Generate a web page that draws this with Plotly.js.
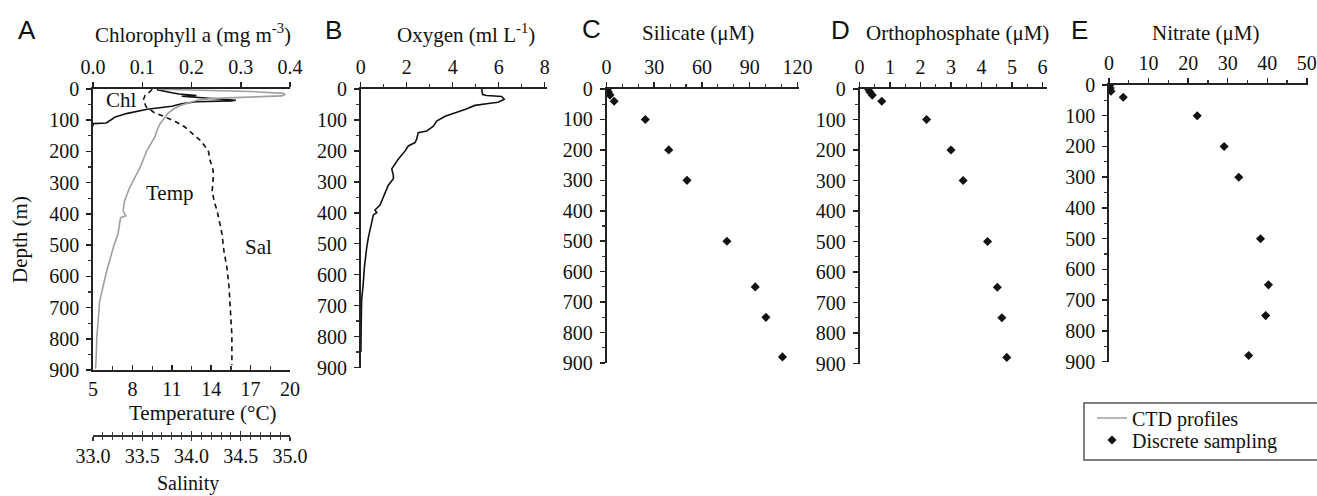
<!DOCTYPE html>
<html><head><meta charset="utf-8">
<script src="https://cdn.plot.ly/plotly-3.0.1.min.js"></script>
<style>body{margin:0;background:#fff}#plot{width:1317px;height:496px}</style>
</head><body><div id="plot"></div>
<script>
// ---- Data ----
const chlDepth = [2, 6, 12, 16, 19, 21, 23, 25, 28, 32, 36, 38, 41, 47, 55, 65, 78, 90, 98, 105, 109, 111, 120];
const chlVal   = [0.13, 0.14, 0.16, 0.175, 0.19, 0.21, 0.18, 0.2, 0.22, 0.25, 0.29, 0.28, 0.21, 0.18, 0.16, 0.11, 0.07, 0.045, 0.037, 0.03, 0.027, 0.0, 0.0];

const tempDepth = [1, 4, 8, 14, 18, 22, 25, 27, 30, 35, 43, 52, 65, 78, 95, 111, 130, 154, 197, 250, 315, 358, 390, 406, 412, 440, 465, 500, 541, 590, 626, 660, 681, 740, 788, 850, 896];
const tempVal   = [10.0, 13.5, 17.0, 19.5, 19.6, 19.4, 17.5, 15.5, 14.2, 13.0, 12.3, 11.7, 11.1, 10.7, 10.4, 10.1, 9.9, 9.7, 9.1, 8.6, 7.8, 7.4, 7.3, 7.5, 7.1, 7.0, 6.9, 6.6, 6.3, 6.0, 5.8, 5.6, 5.5, 5.4, 5.3, 5.25, 5.2];

const salDepth = [1, 8, 20, 35, 57, 75, 89, 105, 121, 140, 165, 197, 230, 261, 290, 326, 360, 390, 430, 465, 520, 573, 630, 681, 740, 788, 840, 885];
const salVal   = [33.6, 33.58, 33.53, 33.51, 33.54, 33.62, 33.73, 33.84, 33.93, 34.0, 34.09, 34.17, 34.19, 34.22, 34.22, 34.21, 34.23, 34.26, 34.29, 34.31, 34.33, 34.36, 34.38, 34.39, 34.405, 34.41, 34.41, 34.41];

const o2Depth = [0, 18, 21, 24, 33, 43, 47, 53, 66, 77, 88, 104, 120, 136, 141, 163, 173, 184, 200, 226, 245, 258, 279, 290, 311, 354, 375, 391, 400, 407, 428, 481, 513, 577, 630, 683, 768, 850];
const o2Val   = [5.26, 5.3, 5.48, 6.13, 6.24, 5.98, 5.55, 4.97, 4.53, 4.1, 3.67, 3.3, 3.16, 2.87, 2.5, 2.43, 2.36, 2.07, 1.93, 1.64, 1.46, 1.35, 1.42, 1.42, 1.2, 0.98, 0.84, 0.62, 0.7, 0.55, 0.48, 0.33, 0.26, 0.16, 0.11, 0.04, 0.02, 0.01];

const sampDepth = [0, 10, 20, 40, 100, 200, 300, 500, 650, 750, 880];
const silicate  = [0.6, 1.2, 2.2, 4.8, 24.4, 39.1, 50.6, 75.7, 93.5, 100.2, 110.6];
const phosphate = [0.29, 0.34, 0.42, 0.73, 2.2, 3.0, 3.4, 4.2, 4.52, 4.67, 4.83];
const nitrate   = [0.2, 0.3, 0.5, 3.6, 22.3, 29.1, 32.8, 38.3, 40.3, 39.6, 35.3];

const depthTicks = [0, 100, 200, 300, 400, 500, 600, 700, 800, 900];

// ---- Layout helpers ----
const W = 1317, H = 496;
const fx = p => p / W;
const fy = p => 1 - p / H;
const SERIF = "'Liberation Serif', 'Times New Roman', serif";
const SANS = "'Liberation Sans', Arial, sans-serif";
const tf = {family: SERIF, size: 20, color: '#111'};

function yAx(top, bottom, anchor) {
  return {
    domain: [fy(bottom), fy(top)], range: [900, 0], tickvals: depthTicks, anchor: anchor,
    ticks: 'outside', ticklen: 5, tickwidth: 1.5, tickcolor: '#222',
    minor: {dtick: 50, ticks: 'outside', ticklen: 3, tickwidth: 1.2, tickcolor: '#333'},
    showline: true, linecolor: '#222', linewidth: 1.8, showgrid: false, zeroline: false,
    tickfont: tf, ticklabelstandoff: 3, fixedrange: true
  };
}
function xTop(left, right, range, dtick, minor, anchor, fmt) {
  const a = {
    domain: [fx(left), fx(right)], range: range, dtick: dtick, tick0: 0, side: 'top', anchor: anchor,
    ticks: 'outside', ticklen: 5, tickwidth: 1.5, tickcolor: '#222',
    showline: true, linecolor: '#222', linewidth: 1.8, showgrid: false, zeroline: false,
    tickfont: tf, ticklabelstandoff: 0, fixedrange: true
  };
  if (minor) a.minor = {dtick: minor, tick0: 0, ticks: 'outside', ticklen: 3, tickwidth: 1.2, tickcolor: '#333'};
  if (fmt) a.tickformat = fmt;
  return a;
}

const Apx = [93, 290], Bpx = [360.7, 547], Cpx = [606.5, 799], Dpx = [859.5, 1047], Epx = [1109, 1308];
const legFont = {family: SERIF, size: 20, color: '#111'};

const layout = {
  width: W, height: H, margin: {l: 0, r: 0, t: 0, b: 0},
  paper_bgcolor: '#fff', plot_bgcolor: 'rgba(0,0,0,0)',
  font: {family: SERIF, size: 20, color: '#111'},
  showlegend: true,
  legend: {x: fx(1092), y: fy(418), xanchor: 'left', yanchor: 'middle', bgcolor: 'rgba(0,0,0,0)',
           borderwidth: 0, font: legFont, itemwidth: 30},
  legend2: {x: fx(1092), y: fy(440), xanchor: 'left', yanchor: 'middle', bgcolor: 'rgba(0,0,0,0)',
           borderwidth: 0, font: legFont, itemwidth: 30},
  // Panel A
  yaxis: yAx(89, 370, 'x'),
  xaxis: xTop(Apx[0], Apx[1], [0, 0.4], 0.1, null, 'y', '.1f'),
  xaxis2: {domain: [fx(Apx[0]), fx(Apx[1])], range: [5, 20], tick0: 5, dtick: 3, overlaying: 'x', anchor: 'y', side: 'bottom',
           ticks: 'inside', ticklen: 5, tickwidth: 1.5, tickcolor: '#222',
           minor: {dtick: 1.5, tick0: 5, ticks: 'inside', ticklen: 4, tickwidth: 1.2, tickcolor: '#333'},
           showline: true, linecolor: '#222', linewidth: 1.8, showgrid: false, zeroline: false,
           tickfont: tf, ticklabelstandoff: 0, fixedrange: true},
  xaxis3: {domain: [fx(Apx[0]), fx(Apx[1])], range: [33, 35], tick0: 33, dtick: 0.5, tickformat: '.1f', overlaying: 'x',
           anchor: 'free', position: fy(435), side: 'bottom',
           ticks: 'outside', ticklen: 4, tickwidth: 1.2, tickcolor: '#333',
           minor: {dtick: 0.1, tick0: 33, ticks: 'outside', ticklen: 3, tickwidth: 1, tickcolor: '#444'},
           showline: true, linecolor: '#333', linewidth: 1.5, showgrid: false, zeroline: false,
           tickfont: tf, ticklabelstandoff: -2, fixedrange: true},
  xaxis8: {domain: [fx(Apx[0]), fx(Apx[1])], range: [33, 35], tick0: 33, dtick: 0.5, overlaying: 'x',
           anchor: 'free', position: fy(435), side: 'bottom', showticklabels: false,
           ticks: 'inside', ticklen: 4, tickwidth: 1.2, tickcolor: '#333',
           minor: {dtick: 0.1, tick0: 33, ticks: 'inside', ticklen: 3, tickwidth: 1, tickcolor: '#444'},
           showline: false, showgrid: false, zeroline: false, fixedrange: true},
  // Panel B
  yaxis2: yAx(89, 367.5, 'x4'),
  xaxis4: xTop(Bpx[0], Bpx[1], [0, 8.1], 2, 1, 'y2'),
  // Panel C
  yaxis3: yAx(89, 363, 'x5'),
  xaxis5: xTop(Cpx[0], Cpx[1], [0, 121], 30, 10, 'y3'),
  // Panel D
  yaxis4: yAx(89, 363.5, 'x6'),
  xaxis6: xTop(Dpx[0], Dpx[1], [0, 6.15], 1, 0.5, 'y4'),
  // Panel E
  yaxis5: yAx(85, 361.7, 'x7'),
  xaxis7: xTop(Epx[0], Epx[1], [0, 50.3], 10, 5, 'y5'),
  shapes: [
    {type: 'rect', xref: 'paper', yref: 'paper', x0: fx(1084), x1: fx(1330), y0: fy(460), y1: fy(403),
     line: {color: '#555', width: 1.5}, fillcolor: 'rgba(0,0,0,0)'}
  ],
  annotations: []
};

function ann(text, x, y, opts) {
  layout.annotations.push(Object.assign({text: text, x: fx(x), y: fy(y), xref: 'paper', yref: 'paper',
    showarrow: false, xanchor: 'center', yanchor: 'middle', font: {family: SERIF, size: 21, color: '#111'}}, opts || {}));
}
const letterFont = {family: SANS, size: 26, color: '#111'};
ann('A', 27, 30, {font: letterFont});
ann('B', 333, 30, {font: letterFont});
ann('C', 591, 29, {font: letterFont});
ann('D', 840, 30, {font: letterFont});
ann('E', 1079, 30, {font: letterFont});
ann('Chlorophyll a (mg m<sup>-3</sup>)', 192.5, 33);
ann('Oxygen (ml L<sup>-1</sup>)', 465.5, 33);
ann('Silicate (μM)', 698, 33);
ann('Orthophosphate (μM)', 957, 33);
ann('Nitrate (μM)', 1205, 33);
ann('Depth (m)', 20, 240, {textangle: -90});
ann('Temperature (°C)', 202, 413);
ann('Salinity', 188, 483, {font: {family: SERIF, size: 20, color: '#111'}});
ann('Chl', 121, 100);
ann('Temp', 170, 193);
ann('Sal', 258, 247);

const traces = [
  {x: chlVal, y: chlDepth, xaxis: 'x', yaxis: 'y', mode: 'lines', line: {color: '#111', width: 1.6}, showlegend: false, name: 'Chl'},
  {x: tempVal, y: tempDepth, xaxis: 'x2', yaxis: 'y', mode: 'lines', line: {color: '#a0a0a0', width: 1.6}, name: 'CTD profiles', legend: 'legend'},
  {x: salVal, y: salDepth, xaxis: 'x3', yaxis: 'y', mode: 'lines', line: {color: '#111', width: 1.6, dash: '5px,4px'}, showlegend: false, name: 'Sal'},
  {x: salVal, y: salDepth, xaxis: 'x8', yaxis: 'y', mode: 'lines', line: {color: '#111', width: 1.6, dash: '5px,4px'}, opacity: 0, showlegend: false, hoverinfo: 'skip'},
  {x: o2Val, y: o2Depth, xaxis: 'x4', yaxis: 'y2', mode: 'lines', line: {color: '#111', width: 1.6}, showlegend: false, name: 'Oxygen'},
  {x: silicate, y: sampDepth, xaxis: 'x5', yaxis: 'y3', mode: 'markers', marker: {symbol: 'diamond', size: 7, color: '#111'}, name: 'Discrete sampling', legend: 'legend2'},
  {x: phosphate, y: sampDepth, xaxis: 'x6', yaxis: 'y4', mode: 'markers', marker: {symbol: 'diamond', size: 7, color: '#111'}, showlegend: false},
  {x: nitrate, y: sampDepth, xaxis: 'x7', yaxis: 'y5', mode: 'markers', marker: {symbol: 'diamond', size: 7, color: '#111'}, showlegend: false}
];

Plotly.newPlot('plot', traces, layout, {staticPlot: true, displayModeBar: false});
</script></body></html>
